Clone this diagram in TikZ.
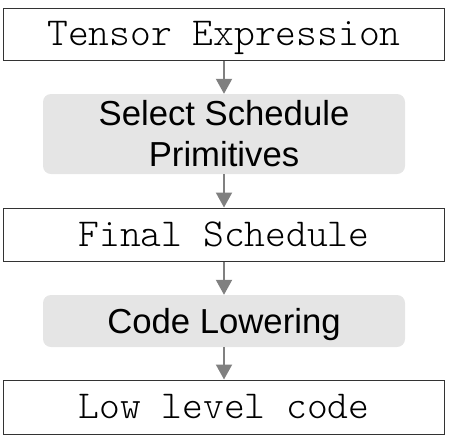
\documentclass[tikz,border=0pt]{standalone}
\usepackage{fontspec}
\setmainfont{Liberation Sans}
\setmonofont{Latin Modern Mono Light}
\usetikzlibrary{arrows.meta, positioning}

\tikzset{
    codebox/.style={draw=black!80, line width=1pt, minimum width=441pt,
        inner sep=0pt, text height=23pt, text depth=0pt,
        font=\fontsize{39.6}{41}\ttfamily},
    stepbox/.style={fill=black!10, rounded corners=8pt, minimum width=362pt,
        inner sep=0pt, align=center, font=\fontsize{34.7}{41}\selectfont},
    flow/.style={draw=black!50, line width=2pt,
        -{Triangle[width=16pt,length=15pt]}}
}

\begin{document}
\begin{tikzpicture}[x=1pt, y=-1pt]

    \useasboundingbox (0,0) rectangle (449,440);

    % pipeline, top to bottom
    \node[codebox, minimum height=52pt] (tensor) at (224,34) {Tensor Expression};
    \node[stepbox, minimum height=80pt] (select) at (224,134) {Select Schedule\\Primitives};
    \node[codebox, minimum height=53pt] (final) at (224,234.5) {Final Schedule};
    \node[stepbox, minimum height=52pt, text height=24pt, text depth=0pt] (lower) at (224,321) {Code Lowering};
    \node[codebox, minimum height=54pt] (low) at (224,407) {Low level code};

    \draw[flow] (tensor.south) -- (select.north);
    \draw[flow] (select.south) -- (final.north);
    \draw[flow] (final.south) -- (lower.north);
    \draw[flow] (lower.south) -- (low.north);

\end{tikzpicture}
\end{document}
